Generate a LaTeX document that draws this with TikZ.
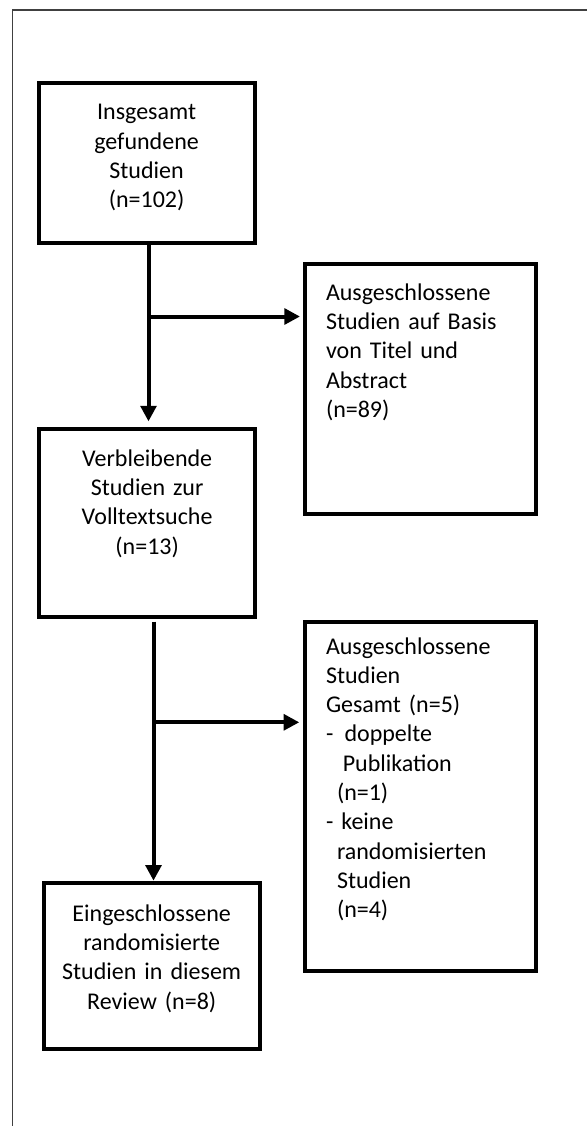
\documentclass[tikz,border=0pt]{standalone}
\usepackage{fontspec}
\setmainfont{Carlito}
\usetikzlibrary{arrows.meta, positioning}
\newcommand\boxfont{\fontsize{12pt}{14.65pt}\selectfont\normalbaselineskip=\baselineskip}

\begin{document}
\begin{tikzpicture}[x=0.5pt, y=-0.5pt,
  box/.style={draw, line width=2pt, anchor=north west, inner sep=0pt, font=\boxfont},
  flow/.style={line width=2pt, -{Triangle[length=7.8pt, width=7.8pt]}}]
\useasboundingbox (0,0) rectangle (587,1126);
\draw[black!75, line width=0.6pt] (600,10) -| (12.7,1140);
\node[box, align=center, text width=100pt, minimum width=107.9pt, text height=18.2pt, text depth=61.4pt] (b1) at (36.7,81.4) {Insgesamt\\gefundene\\Studien\\(n=102)};
\node[box, align=left, text width=94.5pt, minimum width=115.2pt, text height=18.2pt, text depth=106.95pt] (b2) at (303.3,261.7) {Ausgeschlossene\\Studien auf Basis\\von Titel und\\Abstract\\(n=89)};
\node[box, align=center, text width=100pt, minimum width=108.15pt, text height=18.7pt, text depth=75.4pt] (b3) at (37,426.8) {Verbleibende\\Studien zur\\Volltextsuche\\(n=13)};
\node[box, align=left, text width=94.5pt, minimum width=115.2pt, text height=16pt, text depth=158.65pt] (b4) at (303.3,620) {Ausgeschlossene\\Studien\\Gesamt (n=5)\\-\hspace{5.6pt}doppelte\\\hspace*{8.4pt}Publikation\\\hspace*{5.5pt}(n=1)\\- keine\\\hspace*{5.5pt}randomisierten\\\hspace*{5.5pt}Studien\\\hspace*{5.5pt}(n=4)};
\node[box, align=center, text width=100pt, minimum width=108pt, text height=19.2pt, text depth=63.95pt] (b5) at (41.7,880.7) {Eingeschlossene\\randomisierte\\Studien in diesem\\Review (n=8)};
\coordinate (j1) at (148.5,316.5);
\coordinate (j2) at (153.5,722.3);
\draw[flow, shorten >=2.7pt] (j1 |- b1.south) -- (j1 |- b3.north);
\draw[flow, shorten >=1.65pt] (j1) -- (j1 -| b2.west);
\draw[flow, shorten <=1.35pt] (j2 |- b3.south) -- (j2 |- b5.north);
\draw[flow, shorten >=2pt] (j2) -- (j2 -| b4.west);
\end{tikzpicture}
\end{document}
